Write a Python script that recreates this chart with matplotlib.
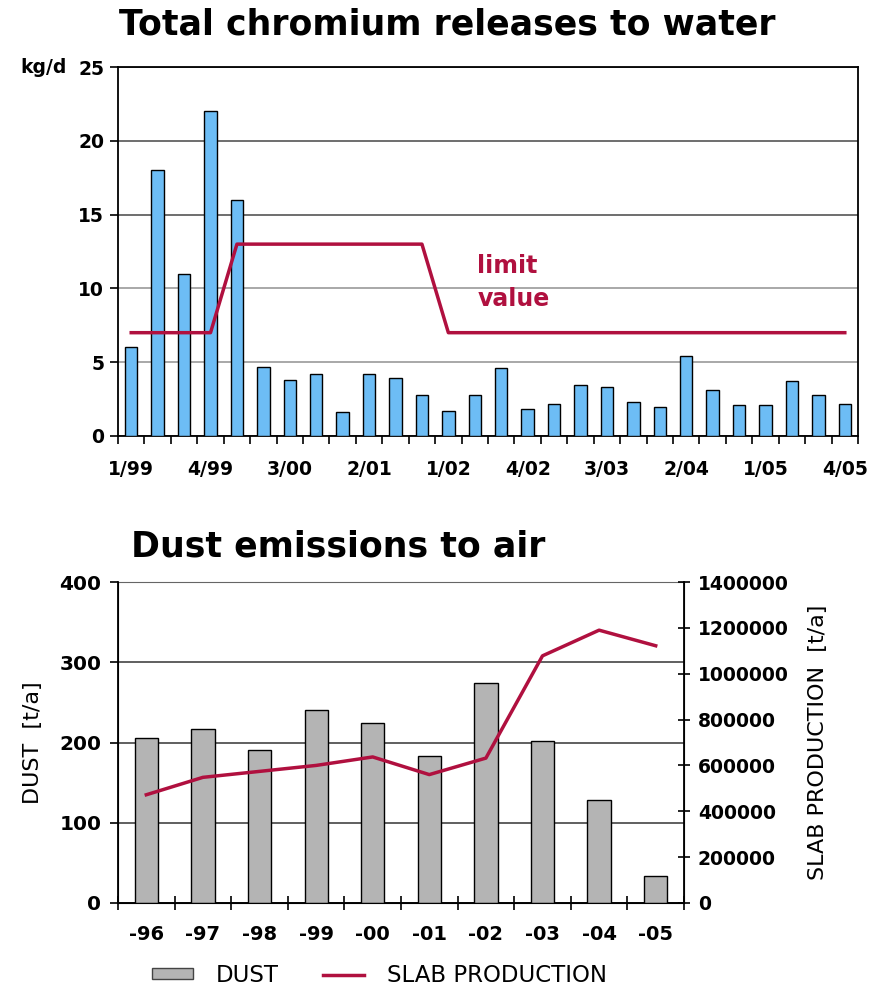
import numpy as np
import matplotlib
matplotlib.use("Agg")
import matplotlib.pyplot as plt
from matplotlib.patches import Patch
from matplotlib.lines import Line2D
from matplotlib.ticker import MultipleLocator, FixedLocator, FuncFormatter

plt.rcParams['font.family'] = ['DejaVu Sans']

# ---------------------------------------------------------------
# DATA
# ---------------------------------------------------------------
quarters = ["1/99", "2/99", "3/99", "4/99",
            "1/00", "2/00", "3/00", "4/00",
            "1/01", "2/01", "3/01", "4/01",
            "1/02", "2/02", "3/02", "4/02",
            "1/03", "2/03", "3/03", "4/03",
            "1/04", "2/04", "3/04", "4/04",
            "1/05", "2/05", "3/05", "4/05"]
chromium = [6.0, 18.0, 11.0, 22.0, 16.0, 4.7, 3.8, 4.2, 1.6, 4.2, 3.9, 2.75,
            1.7, 2.75, 4.6, 1.8, 2.2, 3.45, 3.3, 2.3, 1.95, 5.4, 3.1, 2.1,
            2.1, 3.75, 2.8, 2.2]
limit_value = [7, 7, 7, 7, 13, 13, 13, 13, 13, 13, 13, 13,
               7, 7, 7, 7, 7, 7, 7, 7, 7, 7, 7, 7, 7, 7, 7, 7]
shown_quarters = ["1/99", "4/99", "3/00", "2/01", "1/02", "4/02",
                  "3/03", "2/04", "1/05", "4/05"]

years = ["-96", "-97", "-98", "-99", "-00", "-01", "-02", "-03", "-04", "-05"]
dust = [205, 217, 191, 240, 224, 183, 274, 202, 128, 34]
slab = [472000, 548000, 574000, 600000, 637000, 560000, 632000,
        1078000, 1190000, 1122000]

BLUE = '#6DBDF5'
GRAY = '#B4B4B4'
RED = '#B0103F'

fig = plt.figure(figsize=(8.82, 9.9), dpi=100)

# ---------------------------------------------------------------
# TOP — chromium releases to water
# ---------------------------------------------------------------
ax1 = fig.add_axes([0.1338, 0.5596, 0.839, 0.3727])
x = np.arange(len(quarters))
ax1.bar(x, chromium, width=0.47, color=BLUE, edgecolor='black', linewidth=1.0, zorder=3)
ax1.plot(x, limit_value, color=RED, linewidth=2.5, zorder=4)

ax1.set_xlim(-0.5, len(quarters) - 0.5)
ax1.set_ylim(0, 25)
ax1.yaxis.set_major_locator(MultipleLocator(5))
ax1.grid(axis='y', color='#555555', linewidth=1.2, zorder=0)
for i, gl in enumerate(ax1.get_ygridlines()):
    if i in (2, 3):
        gl.set_color('#9A9A9A')

lab_pos = [quarters.index(q) for q in shown_quarters]
ax1.xaxis.set_major_locator(FixedLocator(lab_pos))
ax1.set_xticklabels(shown_quarters)
ax1.xaxis.set_minor_locator(FixedLocator(np.arange(len(quarters) + 1) - 0.5))
ax1.tick_params(axis='x', which='major', length=0, pad=17, labelsize=13.5)
ax1.tick_params(axis='x', which='minor', length=6, width=1.2, direction='out')
ax1.tick_params(axis='y', length=6, width=1.2, labelsize=13.5, pad=4)
for lbl in ax1.get_xticklabels() + ax1.get_yticklabels():
    lbl.set_fontweight('bold')
for sp in ax1.spines.values():
    sp.set_linewidth(1.3)

ax1.text(-0.1, 1.0, "kg/d", transform=ax1.transAxes, ha='center', va='center',
         fontsize=13.5, fontweight='bold')
ax1.text(13.1, 10.4, "limit\nvalue", color=RED, fontsize=17, fontweight='bold',
         ha='left', va='center', linespacing=1.45)
fig.text(0.507, 0.975, "Total chromium releases to water", ha='center', va='center',
         fontsize=25, fontweight='bold')

# ---------------------------------------------------------------
# BOTTOM — dust emissions to air
# ---------------------------------------------------------------
ax2 = fig.add_axes([0.1338, 0.0879, 0.6417, 0.3242])
xb = np.arange(len(years))
ax2.bar(xb, dust, width=0.41, color=GRAY, edgecolor='black', linewidth=1.0, zorder=3)
ax2.set_xlim(-0.5, len(years) - 0.5)
ax2.set_ylim(0, 400)
ax2.yaxis.set_major_locator(MultipleLocator(100))
ax2.grid(axis='y', color='#444444', linewidth=1.2, zorder=0)
ax2.set_axisbelow(True)
ax2.xaxis.set_major_locator(FixedLocator(xb))
ax2.set_xticklabels(years)
ax2.xaxis.set_minor_locator(FixedLocator(np.arange(len(years) + 1) - 0.5))
ax2.tick_params(axis='x', which='major', length=0, pad=16, labelsize=14)
ax2.tick_params(axis='x', which='minor', length=10, width=1.2, direction='inout')
ax2.tick_params(axis='y', length=6, width=1.2, labelsize=14.5, pad=6)
for lbl in ax2.get_xticklabels() + ax2.get_yticklabels():
    lbl.set_fontweight('bold')
ax2.set_ylabel("DUST  [t/a]", fontsize=16, labelpad=12)
ax2.spines['top'].set_color('#666666')
for sp in ('left', 'bottom'):
    ax2.spines[sp].set_linewidth(1.3)

ax3 = ax2.twinx()
ax3.plot(xb, slab, color=RED, linewidth=2.5, zorder=5)
ax3.set_ylim(0, 1400000)
ax3.yaxis.set_major_locator(MultipleLocator(200000))
ax3.yaxis.set_major_formatter(FuncFormatter(lambda v, p: f"{int(v)}"))
ax3.tick_params(axis='y', length=8, width=1.2, direction='inout', labelsize=13.5, pad=6)
for lbl in ax3.get_yticklabels():
    lbl.set_fontweight('bold')
ax3.set_ylabel("SLAB PRODUCTION  [t/a]", fontsize=16, labelpad=14)
ax3.spines['right'].set_linewidth(1.3)
ax3.spines['top'].set_visible(False)

fig.text(0.148, 0.448, "Dust emissions to air", ha='left', va='center',
         fontsize=25, fontweight='bold')

handles = [Patch(facecolor=GRAY, edgecolor='#444444', linewidth=1.0),
           Line2D([0], [0], color=RED, linewidth=2.5)]
fig.legend(handles, ["DUST", "SLAB PRODUCTION"], loc='center', bbox_to_anchor=(0.43, 0.015),
           ncol=2, frameon=False, fontsize=16.5, handlelength=1.8, handleheight=0.4,
           columnspacing=1.9, handletextpad=1.0)

fig.savefig("out.png", dpi=100)
